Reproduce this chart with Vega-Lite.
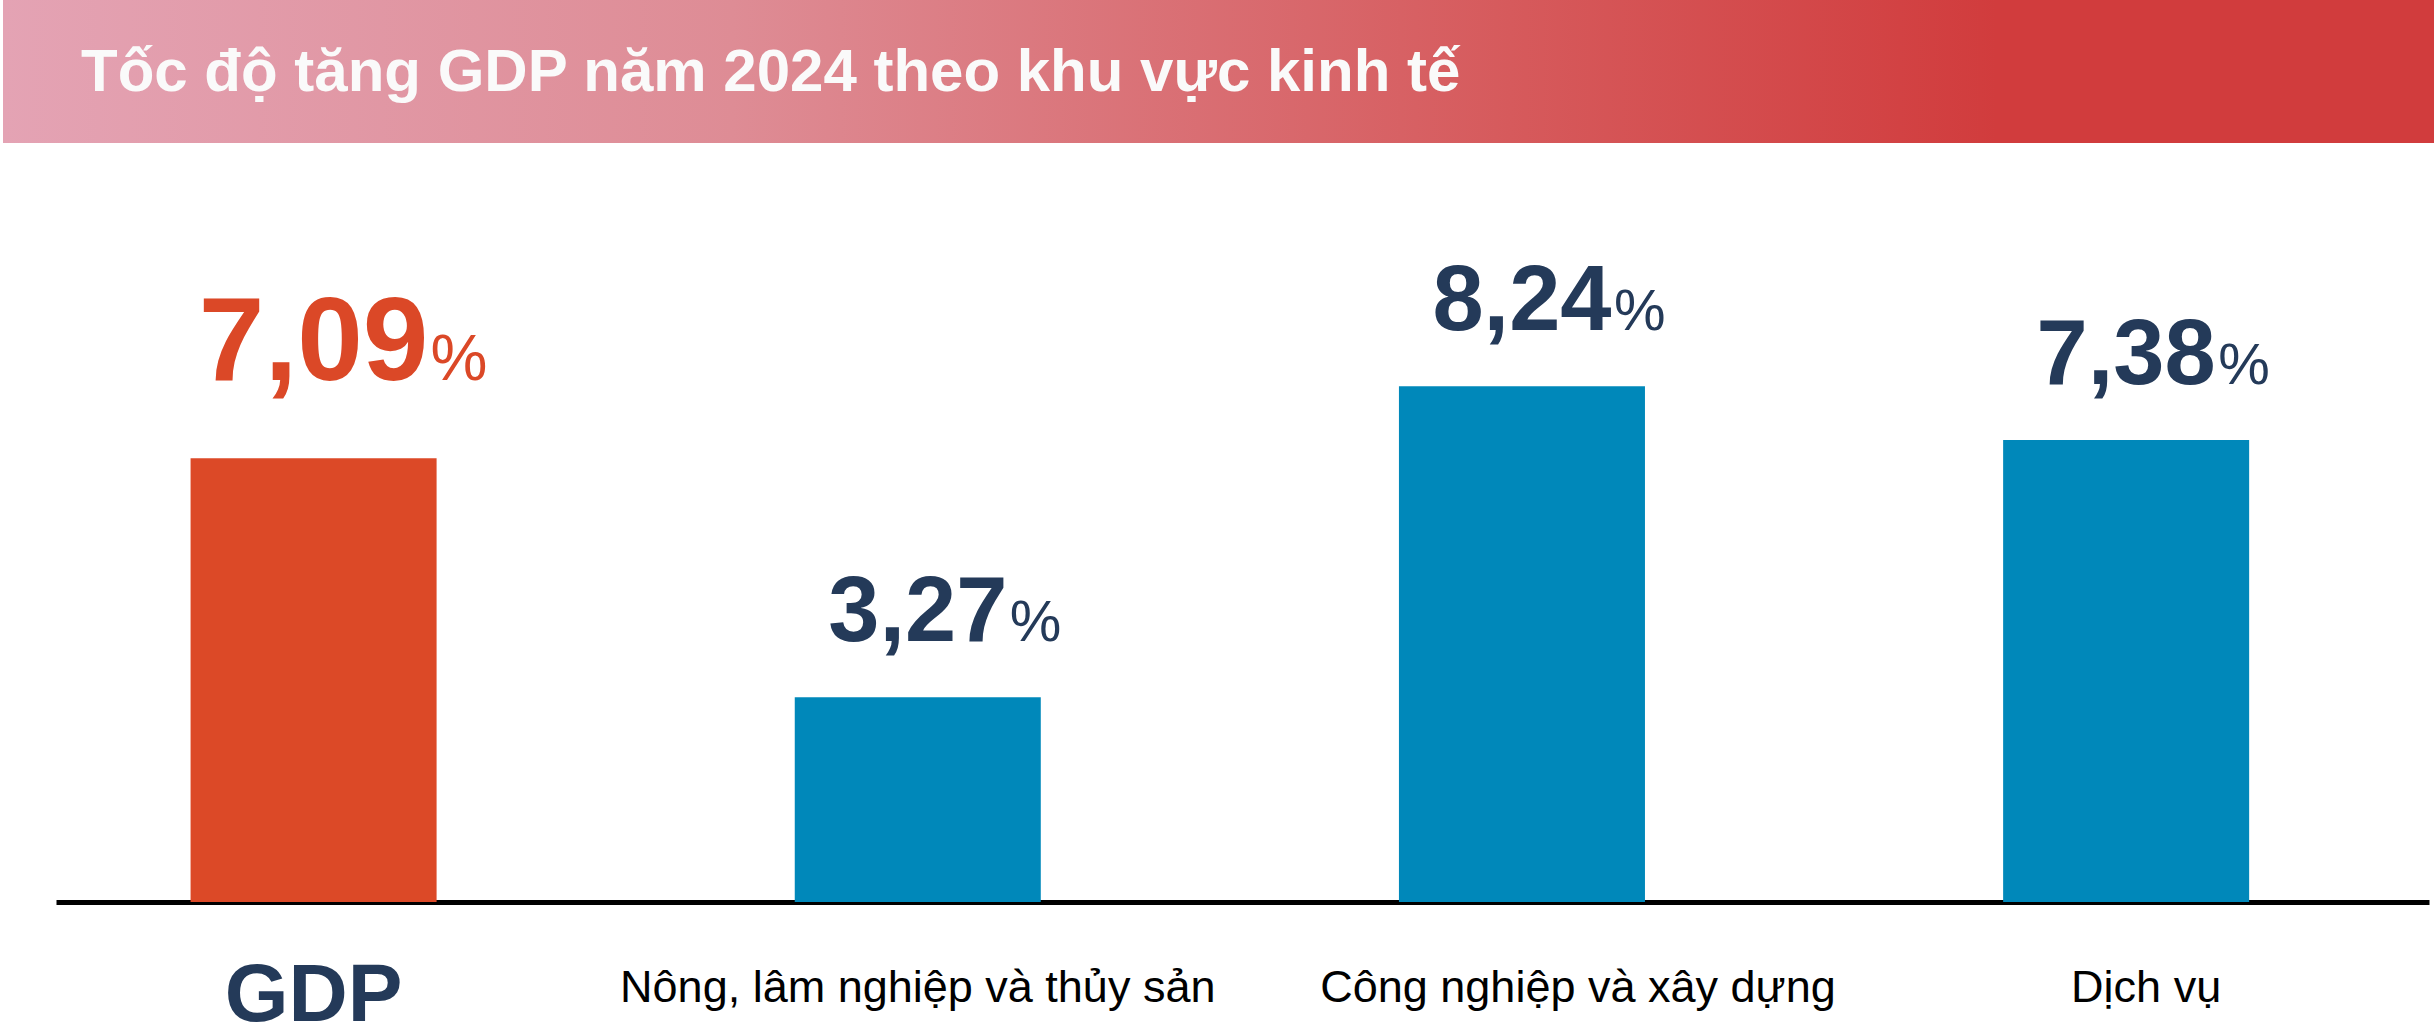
{
  "$schema": "https://vega.github.io/schema/vega-lite/v6.json",
  "background": "white",
  "padding": {"left": 3, "right": 0, "top": 0, "bottom": 0},
  "spacing": 0,
  "config": {
    "view": {"stroke": null},
    "font": "Liberation Sans, Arial, sans-serif",
    "locale": {"number": {"decimal": ",", "thousands": ".", "grouping": [3], "currency": ["", " đ"]}}
  },
  "vconcat": [
    {
      "width": 2431,
      "height": 143,
      "data": {"values": [{"band": "header"}]},
      "title": {
        "text": "Tốc độ tăng GDP năm 2024 theo khu vực kinh tế",
        "anchor": "start",
        "frame": "group",
        "orient": "top",
        "offset": -151,
        "dx": 78,
        "baseline": "alphabetic",
        "font": "Liberation Sans, Arial, sans-serif",
        "fontSize": 60,
        "fontWeight": "bold",
        "color": "#fafafa",
        "zindex": 1
      },
      "mark": {
        "type": "rect",
        "x": 0,
        "x2": "width",
        "y": 0,
        "y2": "height",
        "fill": {
          "gradient": "linear",
          "x1": 0, "x2": 1, "y1": 0, "y2": 0,
          "stops": [
            {"offset": 0, "color": "#e4a3b4"},
            {"offset": 0.3, "color": "#de8c95"},
            {"offset": 0.62, "color": "#d65a5c"},
            {"offset": 0.82, "color": "#d13c3d"},
            {"offset": 1, "color": "#d13c3d"}
          ]
        }
      },
      "encoding": {}
    },
    {
      "width": 2431,
      "height": 891,
      "data": {
        "values": [
          {"Sector": "GDP", "Growth": 7.09},
          {"Sector": "Nông, lâm nghiệp và thủy sản", "Growth": 3.27},
          {"Sector": "Công nghiệp và xây dựng", "Growth": 8.24},
          {"Sector": "Dịch vụ", "Growth": 7.38}
        ]
      },
      "encoding": {
        "x": {
          "field": "Sector",
          "type": "nominal",
          "sort": null,
          "scale": {"range": [53, 2426], "paddingInner": 0.5928, "paddingOuter": 0.2602, "align": 0.428},
          "axis": {
            "orient": "bottom",
            "offset": -132,
            "title": null,
            "ticks": false,
            "domain": true,
            "domainColor": "#000000",
            "domainWidth": 5,
            "labelAngle": 0,
            "labelLimit": 0,
            "labelBaseline": "alphabetic",
            "labelAlign": "center",
            "labelFont": "Liberation Sans, Arial, sans-serif",
            "labelFontSize": {"condition": {"test": "datum.value === 'GDP'", "value": 82}, "value": 45},
            "labelFontWeight": {"condition": {"test": "datum.value === 'GDP'", "value": "bold"}, "value": "normal"},
            "labelColor": {"condition": {"test": "datum.value === 'GDP'", "value": "#243a59"}, "value": "#000000"},
            "labelPadding": {"condition": {"test": "datum.value === 'GDP'", "value": 118}, "value": 99},
            "labelOffset": {"condition": [
              {"test": "datum.value === 'Công nghiệp và xây dựng'", "value": 56},
              {"test": "datum.value === 'Dịch vụ'", "value": 20}
            ], "value": 0}
          }
        },
        "y": {
          "field": "Growth",
          "type": "quantitative",
          "scale": {"domain": [-2.109, 12.125], "nice": false, "zero": false},
          "axis": null
        }
      },
      "layer": [
        {
          "mark": {"type": "bar"},
          "encoding": {
            "color": {"condition": {"test": "datum.Sector === 'GDP'", "value": "#dc4927"}, "value": "#0088ba"}
          }
        },
        {
          "transform": [{"filter": "datum.Sector === 'GDP'"}],
          "layer": [
            {
              "mark": {"type": "text", "align": "center", "baseline": "alphabetic", "dy": -78, "fontSize": 118, "fontWeight": "bold", "color": "#db4827"},
              "encoding": {"text": {"field": "Growth", "type": "quantitative", "format": ".2f"}}
            },
            {
              "mark": {"type": "text", "align": "left", "baseline": "alphabetic", "dy": -78, "dx": 117, "fontSize": 64, "color": "#db4827"},
              "encoding": {"text": {"value": "%"}}
            }
          ]
        },
        {
          "transform": [{"filter": "datum.Sector !== 'GDP'"}],
          "layer": [
            {
              "mark": {"type": "text", "align": "center", "baseline": "alphabetic", "dy": -56, "fontSize": 92, "fontWeight": "bold", "color": "#243a59"},
              "encoding": {"text": {"field": "Growth", "type": "quantitative", "format": ".2f"}}
            },
            {
              "mark": {"type": "text", "align": "left", "baseline": "alphabetic", "dy": -56, "dx": 92, "fontSize": 58, "color": "#243a59"},
              "encoding": {"text": {"value": "%"}}
            }
          ]
        }
      ]
    }
  ]
}
